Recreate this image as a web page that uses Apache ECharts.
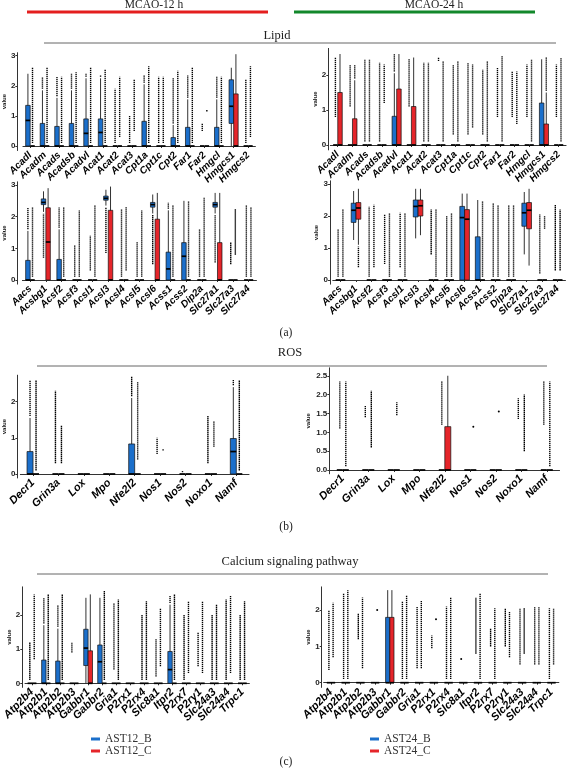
<!DOCTYPE html>
<html><head><meta charset="utf-8">
<script src="https://cdn.jsdelivr.net/npm/echarts@6/dist/echarts.min.js"></script>
<style>html,body{margin:0;padding:0;background:#fff}#c{width:571px;height:777px}</style>
</head><body><div id="c"></div>
<script>
// ---------------- DATA ----------------
// box = [lowerWhisker, Q1, median, Q3, upperWhisker]; dots = [lowest, highest] outlier column (null = none)
const Z = [0,0,0,0,0];

const lipidGenesA = ["Acadl","Acadm","Acads","Acadsb","Acadvl","Acat1","Acat2","Acat3","Cpt1a","Cpt1c","Cpt2","Far1","Far2","Hmgcl","Hmgcs1","Hmgcs2"];
const lipidGenesB = ["Aacs","Acsbg1","Acsf2","Acsf3","Acsl1","Acsl3","Acsl4","Acsl5","Acsl6","Acss1","Acss2","Dip2a","Slc27a1","Slc27a3","Slc27a4"];
const rosGenes = ["Decr1","Grin3a","Lox","Mpo","Nfe2l2","Nos1","Nos2","Noxo1","Namf"];
const caGenes = ["Atp2b4","Atp2b1","Atp2b2","Atp2b3","Gabbr1","Gabbr2","Gria1","P2rx1","P2rx4","Slc8a1","Itpr2","P2rx7","P2ry1","Slc24a3","Slc24a4","Trpc1"];

const ticks3 = [0,1,2,3];
const ticks2 = [0,1,2];
const ticksHalf = [0,0.5,1,1.5,2,2.5];

// Lipid (top row) 12 h
const a1BlueBox = [[0,0,0.85,1.35,2.4],[0,0,0,0.75,1.85],[0,0,0,0.65,1.6],[0,0,0,0.75,1.85],[0,0,0.42,0.9,2.25],[0,0,0.45,0.9,2.25],Z,Z,[0,0,0,0.82,2.05],Z,[0,0,0,0.28,0.7],[0,0,0,0.62,1.55],Z,[0,0,0,0.62,1.55],[0,0.75,1.32,2.2,2.6],Z];
const a1RedBox = [Z,Z,Z,Z,Z,Z,Z,Z,Z,Z,Z,Z,Z,Z,[0,0,0,1.73,3.05],Z];
const a1BlueDots = [null,[1.9,2.3],[1.65,2.3],[1.9,2.4],[2.3,2.4],[2.3,2.35],[0.1,1.9],[0.1,1.0],[2.1,2.35],[0.1,2.3],[0.75,2.25],[1.6,2.35],[0.5,0.75],[1.6,2.3],null,[0.1,2.2]];
const a1RedDots = [[0.1,2.6],[0.1,2.6],[0.1,2.3],[0.1,2.45],[0.1,2.6],[0.1,2.55],[0.3,2.3],[0.5,2.2],[0.1,2.65],[0.1,2.3],[0.1,2.5],[0.1,2.6],[1.15,1.2],[0.1,2.3],null,[0.3,2.65]];

// Lipid (top row) 24 h
const a2BlueBox = [Z,Z,Z,Z,[0,0,0,0.82,2.05],Z,Z,Z,Z,Z,Z,Z,Z,Z,[0,0,0,1.2,2.45],Z];
const a2RedBox = [[0,0,0,1.5,2.6],[0,0,0,0.75,1.85],Z,Z,[0,0,0,1.6,2.6],[0,0,0,1.1,2.5],Z,Z,Z,Z,Z,Z,Z,Z,[0,0,0,0.6,1.5],Z];
const a2BlueDots = [[0.8,2.5],[1.1,2.3],[0.1,2.45],[0.1,2.35],[2.1,2.6],[1.1,2.45],[0.1,2.35],[2.4,2.5],[0.3,2.3],[0.3,2.35],[0.3,2.15],[0.8,2.2],[0.8,2.1],[0.8,2.3],null,[0.8,2.3]];
const a2RedDots = [null,[1.9,2.3],[0.1,2.45],[1.2,2.3],null,null,[0.1,2.35],[0.1,2.4],[0.1,2.4],[0.5,2.3],[0.1,2.4],[0.1,2.55],[0.6,2.1],[0.1,2.45],[1.55,2.5],[0.1,2.5]];

// Lipid (bottom row) 12 h
const a3BlueBox = [[0,0,0,0.62,1.55],[2.15,2.38,2.45,2.56,2.8],[0,0,0,0.65,1.6],Z,Z,[2.35,2.52,2.58,2.65,2.85],Z,Z,[2.1,2.3,2.38,2.45,2.7],[0,0,0.35,0.88,2.2],[0,0,0.75,1.18,2.5],Z,[2.1,2.3,2.38,2.45,2.75],Z,Z];
const a3RedBox = [Z,[0,0,1.2,2.28,2.9],Z,Z,Z,[0,0,0,2.2,2.95],Z,Z,[0,0,0,1.92,2.75],Z,Z,Z,[0,0,0,1.18,2.75],Z,Z];
const a3BlueDots = [[1.6,2.3],[0.7,2.1],[1.65,2.3],[0.1,1.1],[0.3,1.4],[0.85,2.3],[0.1,2.25],[0.1,1.2],[0.5,2.05],[2.25,2.45],null,[0.1,1.6],[0.55,2.05],[0.5,1.2],[0.1,2.35]];
const a3RedDots = [[0.1,2.3],null,[0.1,2.3],[0.1,2.2],[0.1,2.35],null,[0.3,2.3],[0.1,2.2],null,[0.1,2.35],[0.1,2.5],[0.1,2.6],null,[0.8,2.25],[0.1,2.3]];

// Lipid (bottom row) 24 h
const a4BlueBox = [Z,[1.25,1.8,2.18,2.4,2.78],Z,Z,Z,[1.3,1.97,2.3,2.5,2.85],Z,Z,[0,0,1.95,2.3,2.7],[0,0,0,1.35,2.5],Z,Z,[0.8,1.68,2.1,2.4,2.75],Z,Z];
const a4RedBox = [Z,[1.1,1.9,2.25,2.42,2.85],Z,Z,Z,[1.4,2.0,2.32,2.5,2.85],Z,Z,[0,0,1.9,2.2,2.7],Z,Z,Z,[0.45,1.6,2.18,2.42,2.85],Z,Z];
const a4BlueDots = [[0.1,1.6],null,[0.1,2.3],[0.5,2.05],[0.4,2.1],null,[0.8,2.2],[0.1,2.0],null,null,[0.1,2.4],[0.1,2.35],null,[0.2,2.05],[0.3,2.35]];
const a4RedDots = [[0.1,2.2],[0.4,1.05],[0.4,2.35],[0.1,2.1],[0.1,2.1],null,[0.1,2.2],[0.1,2.1],null,[0.1,2.45],[0.1,2.35],[0.1,2.35],null,[1.6,2.0],[0.3,2.2]];

// ROS 12 h
const b1BlueBox = [[0,0,0,0.62,1.55],Z,Z,Z,[0,0,0,0.83,2.1],Z,Z,Z,[0,0,0.62,0.98,2.4]];
const b1RedBox = [Z,Z,Z,Z,Z,Z,Z,Z,Z];
const b1BlueDots = [[1.6,2.6],[0.3,2.3],null,null,[2.15,2.7],[0.55,1.0],[0.05,0.08],[0.3,1.6],[2.45,2.6]];
const b1RedDots = [[0.1,2.6],[0.3,1.35],null,null,[0.4,2.55],[0.65,0.7],null,[0.75,1.45],[0.1,2.6]];

// ROS 24 h
const b2BlueBox = [Z,Z,Z,Z,Z,Z,Z,Z,Z];
const b2RedBox = [Z,Z,Z,Z,[0,0,0,1.15,2.5],Z,Z,Z,Z];
const b2BlueDots = [[1.1,2.35],[1.4,1.7],null,null,[1.2,2.35],null,null,[1.35,1.9],[1.2,2.35]];
const b2RedDots = [[0.1,2.35],[0.6,2.1],[1.45,1.8],null,null,[1.15,1.15],[1.55,1.55],[0.5,2.0],[0.1,2.35]];

// Calcium 12 h
const c1BlueBox = [Z,[0,0,0,0.68,1.7],[0,0,0,0.65,1.6],Z,[0,0.52,1.03,1.58,2.5],[0,0,0.63,1.12,2.5],Z,Z,Z,Z,[0,0,0.4,0.93,2.3],Z,Z,Z,Z,Z];
const c1RedBox = [Z,Z,Z,Z,[0,0,0,0.95,2.6],Z,Z,Z,Z,Z,Z,Z,Z,Z,Z,Z];
const c1BlueDots = [[0.1,1.2],[1.75,2.5],[1.65,2.3],[0.9,1.2],null,null,[0.4,2.35],null,[0.1,2.0],[0.2,1.3],[2.35,2.55],[0.1,2.0],[0.5,1.5],[0.1,2.0],[0.1,2.45],[0.1,2.0]];
const c1RedDots = [[0.7,2.6],[0.1,2.6],[0.1,2.6],null,null,[0.1,2.7],[0.1,2.45],null,[0.1,2.4],[0.5,2.2],[0.1,2.6],[0.3,2.4],[0.3,2.4],[0.1,2.3],[0.3,2.55],[0.1,2.4]];

// Calcium 24 h
const c2BlueBox = [Z,Z,Z,Z,[0,0,0,1.8,2.55],Z,Z,Z,Z,Z,Z,Z,Z,Z,Z,Z];
const c2RedBox = [Z,Z,Z,Z,[0,0,0,1.8,2.55],Z,Z,Z,Z,Z,Z,Z,Z,Z,Z,Z];
const c2BlueDots = [[0.35,2.0],[0.1,2.45],[1.2,1.9],null,null,[0.1,2.25],[0.4,2.1],[0.95,1.3],[0.1,2.1],[0.65,0.65],[0.8,2.35],[1.0,1.5],[1.0,2.05],[0.5,2.05],[0.5,2.1],[0.1,2.05]];
const c2RedDots = [[0.7,2.2],[0.1,2.55],[0.4,2.35],[2.0,2.0],null,[0.1,2.4],[0.4,2.25],[1.75,1.75],[0.1,2.35],null,[0.1,2.45],[0.1,2.05],[0.7,1.95],[0.8,2.05],[0.5,2.1],[0.5,2.05]];

// ---------------- LAYOUT ----------------
const BLUE = '#1b6fcb', RED = '#e5252a';
const panels = [
  {genes:lipidGenesA, bBox:a1BlueBox, rBox:a1RedBox, bDots:a1BlueDots, rDots:a1RedDots, names:['AST12_B','AST12_C'], axisX:13, first:26, last:248, zeroY:146, unit:30.1, vmin:-0.15, vmax:3.1, ticks:ticks3, dec:0, off:2.3, bw:4.5, font:10, nameGap:8},
  {genes:lipidGenesA, bBox:a2BlueBox, rBox:a2RedBox, bDots:a2BlueDots, rDots:a2RedDots, names:['AST24_B','AST24_C'], axisX:328.3, first:337.7, last:558.7, zeroY:145, unit:35, vmin:-0.14, vmax:2.76, ticks:ticks2, dec:0, off:2.3, bw:4.5, font:10, nameGap:9},
  {genes:lipidGenesB, bBox:a3BlueBox, rBox:a3RedBox, bDots:a3BlueDots, rDots:a3RedDots, names:['AST12_B','AST12_C'], axisX:13, first:26, last:248.5, zeroY:280, unit:31.67, vmin:-0.13, vmax:3.1, ticks:ticks3, dec:0, off:2.3, bw:4.5, font:10, nameGap:8},
  {genes:lipidGenesB, bBox:a4BlueBox, rBox:a4RedBox, bDots:a4BlueDots, rDots:a4RedDots, names:['AST24_B','AST24_C'], axisX:330, first:340.5, last:557.7, zeroY:280, unit:32, vmin:-0.13, vmax:3.1, ticks:ticks3, dec:0, off:2.4, bw:4.8, font:10, nameGap:9},
  {genes:rosGenes, bBox:b1BlueBox, rBox:b1RedBox, bDots:b1BlueDots, rDots:b1RedDots, names:['AST12_B','AST12_C'], axisX:11.7, first:27.7, last:236, zeroY:474, unit:36.2, vmin:-0.11, vmax:2.73, ticks:ticks2, dec:0, off:3, bw:6, font:11, nameGap:8},
  {genes:rosGenes, bBox:b2BlueBox, rBox:b2RedBox, bDots:b2BlueDots, rDots:b2RedDots, names:['AST24_B','AST24_C'], axisX:329.3, first:342.8, last:546.8, zeroY:470, unit:37.7, vmin:-0.1, vmax:2.71, ticks:ticksHalf, dec:1, off:3, bw:6, font:11, nameGap:18},
  {genes:caGenes, bBox:c1BlueBox, rBox:c1RedBox, bDots:c1BlueDots, rDots:c1RedDots, names:['AST12_B','AST12_C'], axisX:11, first:21.1, last:242, zeroY:683.3, unit:34.2, vmin:-0.12, vmax:2.82, ticks:ticks2, dec:0, off:2.2, bw:4.4, font:11, nameGap:8},
  {genes:caGenes, bBox:c2BlueBox, rBox:c2RedBox, bDots:c2BlueDots, rDots:c2RedDots, names:['AST24_B','AST24_C'], axisX:321.7, first:331, last:551.5, zeroY:682.7, unit:36.3, vmin:-0.13, vmax:2.64, ticks:ticks2, dec:0, off:2.1, bw:4.2, font:11, nameGap:9}
];

const grids = [], xAxes = [], yAxes = [], series = [];

function makeRender(p, side) {
  const dots = side < 0 ? p.bDots : p.rDots;
  const color = side < 0 ? BLUE : RED;
  return function (params, api) {
    const i = api.value(0);
    const v = [api.value(1), api.value(2), api.value(3), api.value(4), api.value(5)];
    const cx = api.coord([i, 0])[0] + side * p.off;
    const Y = t => api.coord([i, t])[1];
    const w = p.bw;
    const ch = [];
    const d = dots[params.dataIndex];
    if (d) {
      if (d[1] - d[0] < 0.02) {
        ch.push({type:'circle', shape:{cx:cx, cy:Y(d[0]), r:1}, style:{fill:'#000'}});
      } else {
        ch.push({type:'line', shape:{x1:cx, y1:Y(d[0]), x2:cx, y2:Y(d[1])}, style:{stroke:'#000', lineWidth:1.4, lineDash:[1.3,0.7]}});
      }
    }
    if (v[4] > v[0]) {
      ch.push({type:'line', shape:{x1:cx, y1:Y(v[0]), x2:cx, y2:Y(v[4])}, style:{stroke:'#333', lineWidth:1}});
    }
    if (v[3] > v[1]) {
      const yt = Y(v[3]), yb = Y(v[1]);
      ch.push({type:'rect', shape:{x:cx - w/2, y:yt, width:w, height:yb - yt}, style:{fill:color, stroke:'#111', lineWidth:0.7}});
    }
    const ym = Y(v[2]);
    ch.push({type:'line', shape:{x1:cx - w/2, y1:ym, x2:cx + w/2, y2:ym}, style:{stroke:'#000', lineWidth:1.7}});
    return {type:'group', children: ch};
  };
}

panels.forEach((p, k) => {
  const n = p.genes.length;
  const sp = (p.last - p.first) / (n - 1);
  const left = p.first - sp / 2;
  const width = sp * n;
  const top = p.zeroY - p.vmax * p.unit;
  const height = (p.vmax - p.vmin) * p.unit;
  grids.push({left:left, top:top, width:width, height:height});
  xAxes.push({
    type:'category', gridIndex:k, data:p.genes,
    axisLine:{lineStyle:{color:'#333', width:1}},
    axisTick:{show:true, length:2, alignWithLabel:true, lineStyle:{color:'#333'}},
    axisLabel:{rotate:45, interval:0, fontSize:p.font, fontWeight:'bold', fontStyle:'italic', fontFamily:'Liberation Sans', color:'#000', margin:3},
    splitLine:{show:false}
  });
  yAxes.push({
    type:'value', gridIndex:k, min:p.vmin, max:p.vmax, offset: left - p.axisX,
    axisLine:{show:true, lineStyle:{color:'#333', width:1}},
    axisTick:{show:true, length:2, customValues:p.ticks, lineStyle:{color:'#333'}},
    axisLabel:{customValues:p.ticks, formatter: val => Number(val).toFixed(p.dec), fontSize:8, fontWeight:'bold', fontFamily:'Liberation Sans', color:'#222', margin:2},
    splitLine:{show:false},
    name:'value', nameLocation:'middle', nameRotate:90, nameGap:p.nameGap,
    nameTextStyle:{fontSize:6, fontWeight:'bold', fontFamily:'Liberation Sans', color:'#222'}
  });
  [[-1, p.bBox, p.names[0], BLUE], [1, p.rBox, p.names[1], RED]].forEach(([side, boxes, name, color]) => {
    series.push({
      type:'custom', name:name, xAxisIndex:k, yAxisIndex:k, silent:true, clip:false,
      itemStyle:{color:color},
      encode:{x:0, y:[1,2,3,4,5]},
      renderItem: makeRender(p, side),
      data: boxes.map((b, i) => [i, b[0], b[1], b[2], b[3], b[4]])
    });
  });
});

const serif = 'Liberation Serif';
function txt(x, y, s, size) {
  return {type:'text', x:x, y:y, style:{text:s, fontFamily:serif, fontSize:size, fill:'#222', align:'center', verticalAlign:'middle'}};
}
function hline(x1, x2, y, color, lw) {
  return {type:'line', shape:{x1:x1, y1:y, x2:x2, y2:y}, style:{stroke:color, lineWidth:lw}};
}

const graphic = [
  txt(154, 5, 'MCAO-12 h', 11.5), hline(27, 268, 12, '#e41e1e', 3),
  txt(434, 5, 'MCAO-24 h', 11.5), hline(294, 535, 12, '#12882b', 3),
  txt(277, 36, 'Lipid', 12.5), hline(44, 556, 43, '#666', 1),
  txt(286, 333, '(a)', 11.5),
  txt(290, 353, 'ROS', 12.5), hline(37, 547, 366, '#666', 1),
  txt(286, 527, '(b)', 11.5),
  txt(290, 562, 'Calcium signaling pathway', 12.5), hline(37, 548, 574, '#666', 1),
  txt(286, 762, '(c)', 11.5)
];

const chart = echarts.init(document.getElementById('c'), null, {renderer:'canvas'});
chart.setOption({
  animation:false,
  backgroundColor:'#fff',
  grid:grids, xAxis:xAxes, yAxis:yAxes, series:series,
  legend:[
    {data:['AST12_B','AST12_C'], orient:'vertical', left:86, top:728, itemWidth:9, itemHeight:3, itemGap:0, icon:'rect', selectedMode:false,
     textStyle:{fontFamily:serif, fontSize:11.5, color:'#333'}},
    {data:['AST24_B','AST24_C'], orient:'vertical', left:365, top:728, itemWidth:9, itemHeight:3, itemGap:0, icon:'rect', selectedMode:false,
     textStyle:{fontFamily:serif, fontSize:11.5, color:'#333'}}
  ],
  graphic:graphic
});
</script></body></html>
